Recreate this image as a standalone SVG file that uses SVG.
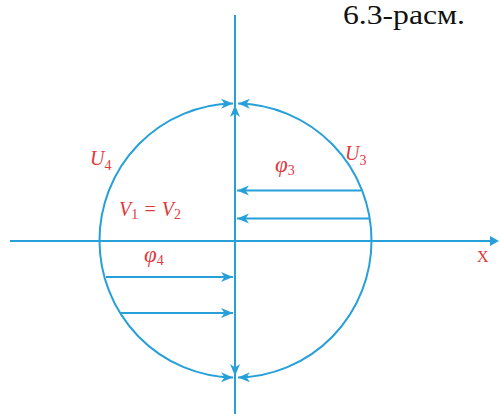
<svg xmlns="http://www.w3.org/2000/svg" width="499" height="414" viewBox="0 0 499 414">
<style>
.ax{stroke:#27a0da;stroke-width:2;fill:none}
.lb{fill:#e0393c;font-family:Liberation Serif,Times New Roman,serif;font-style:italic;font-size:20px}
.sb{font-size:14px;font-style:normal}
.ph{font-size:23px}
.tt{font-family:Liberation Serif,Times New Roman,serif}
</style>
<defs>
<marker id="ah" markerUnits="userSpaceOnUse" markerWidth="13" markerHeight="11" refX="12" refY="5" orient="auto" viewBox="0 0 13 10">
<path d="M0,0 L12,5 L0,10 L3.5,5 z" fill="#27a0da"/>
</marker>
</defs>
<rect width="499" height="414" fill="#fff"/>
<g id="connectors">
<line class="ax" x1="10" y1="241" x2="492" y2="241"/>
<path d="M490,236 L499,241 L490,246 z" fill="#27a0da"/>
<line class="ax" x1="235" y1="15" x2="235" y2="414"/>
<line class="ax" x1="235" y1="160" x2="235" y2="105" marker-end="url(#ah)"/>
<line class="ax" x1="235" y1="320" x2="235" y2="376" marker-end="url(#ah)"/>
<path class="ax" d="M99.5,240.5 A136 137 0 0 1 233,103.5" marker-end="url(#ah)"/>
<path class="ax" d="M99.5,240.5 A136 137 0 0 0 233,377.5" marker-end="url(#ah)"/>
<path class="ax" d="M371.5,240.5 A136 137 0 0 0 238,103.5" marker-end="url(#ah)"/>
<path class="ax" d="M371.5,240.5 A136 137 0 0 1 238,377.5" marker-end="url(#ah)"/>
<line class="ax" x1="361" y1="190.5" x2="237" y2="190.5" marker-end="url(#ah)"/>
<line class="ax" x1="370" y1="218.5" x2="237" y2="218.5" marker-end="url(#ah)"/>
<line class="ax" x1="106" y1="277" x2="233" y2="277" marker-end="url(#ah)"/>
<line class="ax" x1="121" y1="313" x2="233" y2="313" marker-end="url(#ah)"/>
</g>
<g id="labels">
<text class="tt" x="343" y="24" font-size="27" textLength="122" lengthAdjust="spacingAndGlyphs" fill="#111">6.3-расм.</text>
<text class="lb" x="90" y="165">U<tspan class="sb" dy="5">4</tspan></text>
<text class="lb" x="345" y="160">U<tspan class="sb" dy="5">3</tspan></text>
<text class="lb" x="275" y="172"><tspan class="ph">φ</tspan><tspan class="sb" dy="3">3</tspan></text>
<text class="lb" x="144" y="262"><tspan class="ph">φ</tspan><tspan class="sb" dy="3">4</tspan></text>
<text class="lb" x="119" y="216">V<tspan class="sb" dy="3">1</tspan><tspan dy="-3"> = V</tspan><tspan class="sb" dy="3">2</tspan></text>
<text class="tt" x="477" y="262" font-size="16" fill="#e0393c">X</text>
</g>
</svg>
